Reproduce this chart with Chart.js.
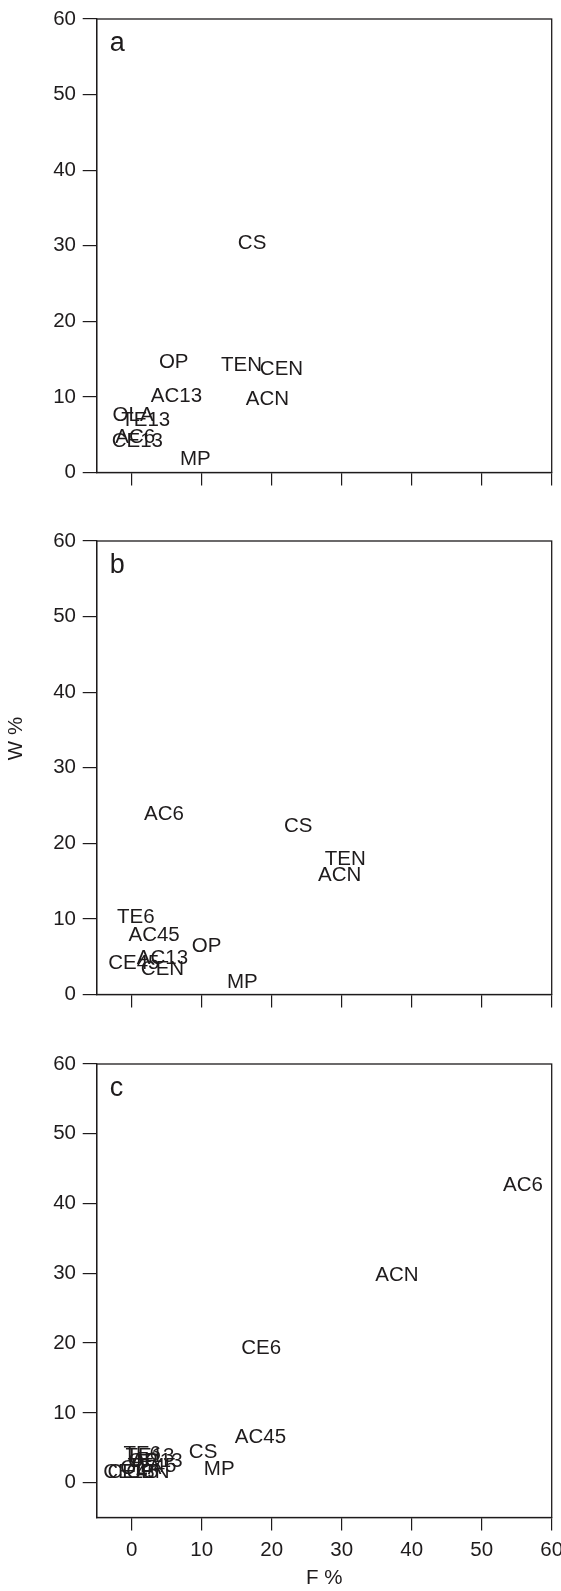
<!DOCTYPE html>
<html>
<head>
<meta charset="utf-8">
<script src="https://cdn.jsdelivr.net/npm/chart.js@4"></script>
<style>
  body { margin: 0; background: #fff; }
  #wrap { position: relative; width: 561px; height: 1591px; }
  canvas { position: absolute; left: 0; }
</style>
</head>
<body>
<div id="wrap">
  <canvas id="chartA" width="561" height="500" style="top:0px"></canvas>
  <canvas id="chartB" width="561" height="500" style="top:521.5px"></canvas>
  <canvas id="chartC" width="561" height="546" style="top:1045px"></canvas>
</div>
<script>
// panel a
const namesA = ["CS", "OP", "TEN", "CEN", "AC13", "ACN", "OLA", "TE13", "AC6", "CE13", "MP"];
const fA = [17.2, 6.0, 15.7, 21.4, 6.4, 19.4, 0.2, 2.0, 0.5, 0.8, 9.1];
const wA = [30.3, 14.6, 14.2, 13.65, 10.1, 9.7, 7.6, 6.85, 4.65, 4.1, 1.75];

// panel b
const namesB = ["AC6", "CS", "TEN", "ACN", "TE6", "AC45", "OP", "AC13", "CE45", "CEN", "MP"];
const fB = [4.6, 23.8, 30.5, 29.7, 0.6, 3.2, 10.7, 4.4, 0.3, 4.4, 15.8];
const wB = [23.8, 22.25, 17.85, 15.8, 10.2, 7.85, 6.4, 4.75, 4.1, 3.3, 1.65];

// panel c
const namesC = ["AC6", "ACN", "CE6", "AC45", "CS", "MP", "TE6", "TE13", "OP", "AC13", "TE45", "OLA", "CEN", "CE45", "CE13"];
const fC = [55.9, 37.9, 18.5, 18.4, 10.2, 12.5, 1.5, 2.6, 1.6, 3.6, 2.9, 1.3, 2.3, 0.2, -0.4];
const wC = [42.6, 29.7, 19.3, 6.5, 4.35, 1.95, 4.1, 3.7, 3.0, 3.0, 2.4, 2.1, 1.5, 1.5, 1.5];

const xTicks = [0, 10, 20, 30, 40, 50, 60];
const yTicks = [0, 10, 20, 30, 40, 50, 60];

const ink = "#1e1b1c";
const fontFamily = "'Liberation Sans', Arial, Helvetica, sans-serif";
Chart.defaults.font.family = fontFamily;
Chart.defaults.font.size = 20.5;
Chart.defaults.color = ink;

// draws the name of each point at its position, plus the box and panel letter
const textLabels = {
  id: "textLabels",
  afterDatasetsDraw(chart, args, opts) {
    const ctx = chart.ctx;
    const meta = chart.getDatasetMeta(0);
    const area = chart.chartArea;
    ctx.save();
    ctx.fillStyle = ink;
    ctx.font = "20.5px " + fontFamily;
    ctx.textAlign = "center";
    ctx.textBaseline = "middle";
    meta.data.forEach((pt, i) => {
      ctx.fillText(chart.data.labels[i], pt.x, pt.y);
    });
    // box
    ctx.strokeStyle = ink;
    ctx.lineWidth = 1.3;
    ctx.strokeRect(area.left, area.top, area.right - area.left, area.bottom - area.top);
    // panel letter
    ctx.font = "27px " + fontFamily;
    ctx.textAlign = "left";
    ctx.textBaseline = "alphabetic";
    ctx.fillText(opts.letter, area.left + 13, area.top + 32);
    if (opts.yTitle) {
      ctx.font = "20.5px " + fontFamily;
      ctx.translate(22, opts.yTitleAt);
      ctx.rotate(-Math.PI / 2);
      ctx.textAlign = "center";
      ctx.fillText(opts.yTitle, 0, 0);
    }
    ctx.restore();
  }
};

function makePanel(id, names, f, w, opt) {
  const points = f.map((v, i) => ({ x: v, y: w[i] }));
  return new Chart(document.getElementById(id), {
    type: "scatter",
    data: {
      labels: names,
      datasets: [{ data: points, pointRadius: 0, pointHoverRadius: 0, clip: false }]
    },
    options: {
      responsive: false,
      animation: false,
      events: [],
      layout: { padding: { top: 19, right: 9.3, left: 0, bottom: 0 } },
      plugins: {
        legend: { display: false },
        tooltip: { enabled: false },
        textLabels: { letter: opt.letter, yTitle: opt.yTitle, yTitleAt: opt.yTitleAt }
      },
      scales: {
        x: {
          type: "linear",
          min: -5,
          max: 60,
          afterBuildTicks: (s) => { s.ticks = xTicks.map((v) => ({ value: v })); },
          afterFit: (s) => { s.height = opt.xHeight; s.paddingLeft = 0; s.paddingRight = 0; },
          ticks: { display: opt.xLabels, padding: 7.7, maxRotation: 0, color: ink },
          grid: { drawOnChartArea: false, drawTicks: true, tickLength: 13, color: ink, lineWidth: 1.2 },
          border: { color: ink, width: 1.3 },
          title: {
            display: opt.xLabels,
            text: "F %",
            color: ink,
            font: { size: 20.5 },
            padding: { top: 0, bottom: 0 }
          }
        },
        y: {
          type: "linear",
          min: opt.yMin,
          max: 60,
          afterBuildTicks: (s) => { s.ticks = yTicks.map((v) => ({ value: v })); },
          afterFit: (s) => { s.width = 96.7; s.paddingTop = 0; s.paddingBottom = 0; },
          ticks: { padding: 6.7, color: ink },
          grid: { drawOnChartArea: false, drawTicks: true, tickLength: 14, color: ink, lineWidth: 1.2 },
          border: { color: ink, width: 1.3 }
        }
      }
    },
    plugins: [textLabels]
  });
}

makePanel("chartA", namesA, fA, wA, { letter: "a", yMin: 0, xHeight: 27.5, xLabels: false });
makePanel("chartB", namesB, fB, wB, { letter: "b", yMin: 0, xHeight: 27.5, xLabels: false, yTitle: "W %", yTitleAt: 738 - 521.5 });
makePanel("chartC", namesC, fC, wC, { letter: "c", yMin: -5, xHeight: 73.5, xLabels: true });
</script>
</body>
</html>
